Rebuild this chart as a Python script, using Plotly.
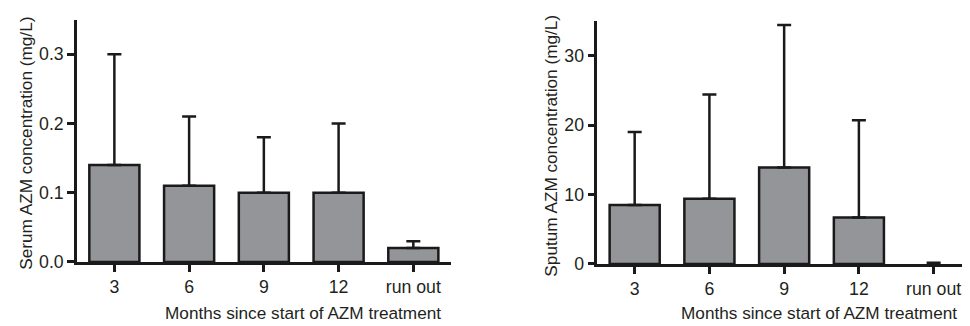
import plotly.graph_objects as go

categories = ["3", "6", "9", "12", "run out"]
serum_mean = [0.14, 0.11, 0.10, 0.10, 0.02]
serum_err = [0.16, 0.10, 0.08, 0.10, 0.01]
sputum_mean = [8.5, 9.4, 13.9, 6.7, 0.0]
sputum_err = [10.5, 15.0, 20.5, 14.0, 0.15]

x_title = "Months since start of AZM treatment"
y_title_left = "Serum AZM concentration (mg/L)"
y_title_right = "Sputum AZM concentration (mg/L)"

FONT = "Liberation Sans, Arial, sans-serif"
TXT = "#231f20"
BAR = "#939598"
LINE = "#1a1a1a"

W, H = 970, 326
XOFF = 8  # horizontal page offset observed in rendering


def px(wx):
    return (wx - XOFF) / W


def py(wy):
    return (H - wy) / H


fig = go.Figure()
for vals, errs, xa, ya in [(serum_mean, serum_err, "x", "y"), (sputum_mean, sputum_err, "x2", "y2")]:
    fig.add_trace(go.Bar(
        x=categories, y=vals, xaxis=xa, yaxis=ya, width=0.67,
        marker=dict(color=BAR, line=dict(color=LINE, width=[2.5 if v > 0 else 0 for v in vals])),
        error_y=dict(type="data", array=errs, symmetric=False, arrayminus=[0]*len(errs),
                     color=LINE, thickness=2.5, width=7),
        showlegend=False,
    ))

axis_common = dict(showline=True, linecolor=LINE, linewidth=2.5, ticks="outside",
                   tickcolor=LINE, tickwidth=2.5, ticklen=7, showgrid=False, zeroline=False,
                   tickfont=dict(family=FONT, size=17.7, color=TXT))

title_font = dict(family=FONT, size=17.2, color=TXT)

fig.update_layout(
    width=W, height=H,
    margin=dict(l=0, r=0, t=0, b=0),
    paper_bgcolor="white", plot_bgcolor="white",
    xaxis=dict(domain=[px(77), px(450.7)], range=[-0.5, 4.5], anchor="y", type="category", **axis_common),
    yaxis=dict(domain=[py(262), py(12)], range=[0, 0.35], anchor="x", tickvals=[0, 0.1, 0.2, 0.3],
               ticktext=["0.0", "0.1", "0.2", "0.3"], **axis_common),
    xaxis2=dict(domain=[px(597.3), px(971)], range=[-0.5, 4.5], anchor="y2", type="category", **axis_common),
    yaxis2=dict(domain=[py(264), py(13.3)], range=[0, 35], anchor="x2", tickvals=[0, 10, 20, 30], **axis_common),
    annotations=[
        dict(text=x_title, x=px(302.5), y=py(315), xref="paper", yref="paper", showarrow=False,
             font=title_font, xanchor="center", yanchor="middle"),
        dict(text=x_title, x=px(818.5), y=py(315), xref="paper", yref="paper", showarrow=False,
             font=title_font, xanchor="center", yanchor="middle"),
        dict(text=y_title_left, x=px(26), y=py(140), xref="paper", yref="paper", showarrow=False,
             textangle=-90, font=title_font, xanchor="center", yanchor="middle"),
        dict(text=y_title_right, x=px(551), y=py(142), xref="paper", yref="paper", showarrow=False,
             textangle=-90, font=title_font, xanchor="center", yanchor="middle"),
    ],
)

fig.write_html("out.html")
